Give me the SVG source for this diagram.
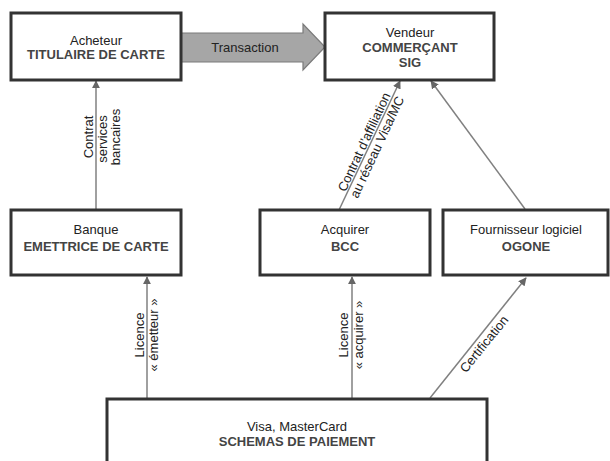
<svg xmlns="http://www.w3.org/2000/svg" width="610" height="461" viewBox="0 0 610 461">
<style>
.box{fill:#fff;stroke:#333;stroke-width:3}
.t1{font-family:"Liberation Sans",Arial,sans-serif;font-size:13px;fill:#222;text-anchor:middle}
.t2{font-family:"Liberation Sans",Arial,sans-serif;font-size:13px;font-weight:bold;fill:#444;text-anchor:middle}
.lbl{font-family:"Liberation Sans",Arial,sans-serif;font-size:13px;fill:#222;text-anchor:middle;dominant-baseline:central}
.con{stroke:#808080;stroke-width:1.5;fill:none;marker-end:url(#ah)}
</style>
<defs>
<marker id="ah" viewBox="0 0 10 10" refX="9" refY="5" markerWidth="5.5" markerHeight="5.5" orient="auto" markerUnits="strokeWidth">
<path d="M0,0 L10,5 L0,10 z" fill="#666"/>
</marker>
</defs>
<rect width="610" height="461" fill="#fff"/>
<g id="connectors">
<path d="M181,33 H303 V24 L325,47 L303,70 V62 H181 Z" fill="#a6a6a6" stroke="#7a7a7a" stroke-width="1.2"/>
<text class="t1" x="245" y="52">Transaction</text>
<line class="con" x1="96" y1="209" x2="96" y2="81"/>
<text class="lbl" transform="translate(88,137) rotate(-90)">Contrat</text>
<text class="lbl" transform="translate(102,139) rotate(-90)">services</text>
<text class="lbl" transform="translate(115,137) rotate(-90)">bancaires</text>
<line class="con" x1="339" y1="210" x2="400" y2="81"/>
<text class="lbl" transform="translate(364,142) rotate(-65)">Contrat d’affiliation</text>
<text class="lbl" transform="translate(377,147) rotate(-65)">au réseau Visa/MC</text>
<line class="con" x1="525" y1="209" x2="431" y2="81"/>
<line class="con" x1="147" y1="398" x2="147" y2="277"/>
<text class="lbl" transform="translate(139,335) rotate(-90)">Licence</text>
<text class="lbl" transform="translate(153,335) rotate(-90)">« émetteur »</text>
<line class="con" x1="352" y1="398" x2="352" y2="277"/>
<text class="lbl" transform="translate(343,335) rotate(-90)">Licence</text>
<text class="lbl" transform="translate(358,335) rotate(-90)">« acquirer »</text>
<line class="con" x1="430" y1="398" x2="526" y2="278"/>
<text class="lbl" transform="translate(484,344) rotate(-51)">Certification</text>
</g>
<g id="acheteur">
<rect class="box" x="11" y="13" width="170" height="67"/>
<text class="t1" x="96" y="45">Acheteur</text>
<text class="t2" x="96" y="59">TITULAIRE DE CARTE</text>
</g>
<g id="vendeur">
<rect class="box" x="325" y="13" width="169" height="67"/>
<text class="t1" x="410" y="37">Vendeur</text>
<text class="t2" x="410" y="52">COMMERÇANT</text>
<text class="t2" x="410" y="67">SIG</text>
</g>
<g id="banque">
<rect class="box" x="11" y="210" width="170" height="65"/>
<text class="t1" x="96" y="234">Banque</text>
<text class="t2" x="96" y="251">EMETTRICE DE CARTE</text>
</g>
<g id="acquirer">
<rect class="box" x="260" y="210" width="170" height="65"/>
<text class="t1" x="345" y="234">Acquirer</text>
<text class="t2" x="345" y="251">BCC</text>
</g>
<g id="fournisseur">
<rect class="box" x="443" y="210" width="165" height="65"/>
<text class="t1" x="526" y="234">Fournisseur logiciel</text>
<text class="t2" x="526" y="251">OGONE</text>
</g>
<g id="schemas">
<rect class="box" x="107" y="399" width="380" height="80"/>
<text class="t1" x="297" y="431">Visa, MasterCard</text>
<text class="t2" x="297" y="446">SCHEMAS DE PAIEMENT</text>
</g>
</svg>
